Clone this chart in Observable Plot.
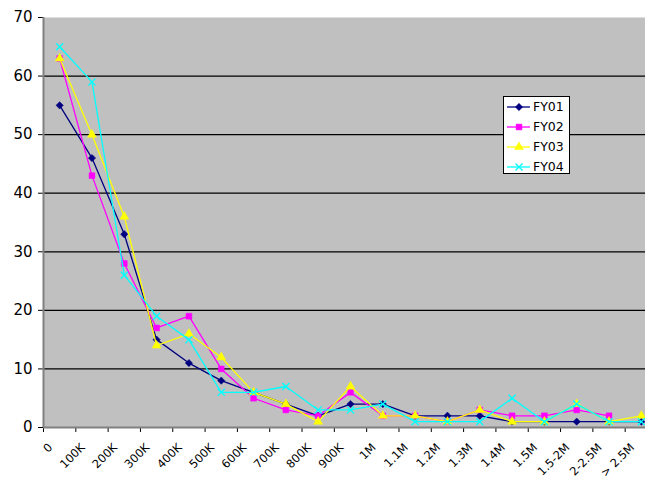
<!DOCTYPE html>
<html><head><meta charset="utf-8">
<script src="https://cdn.jsdelivr.net/npm/d3@7"></script>
<script src="https://cdn.jsdelivr.net/npm/@observablehq/plot@0.6"></script>
<style>
html,body{margin:0;padding:0;background:#fff;}
#wrap{position:relative;width:645px;height:483px;overflow:hidden;}
#legend{position:absolute;left:503px;top:96px;}
</style></head><body><div id="wrap"></div>
<script>
const categories = ["0","100K","200K","300K","400K","500K","600K","700K","800K","900K","1M","1.1M","1.2M","1.3M","1.4M","1.5M","1.5-2M","2-2.5M","> 2.5M"];
const fy01 = [55,46,33,15,11,8,6,4,2,4,4,2,2,2,1,1,1,1,1];
const fy02 = [63,43,28,17,19,10,5,3,2,6,2,2,1,3,2,2,3,2,null];
const fy03 = [63,50,36,14,16,12,6,4,1,7,2,2,1,3,1,1,4,1,2];
const fy04 = [65,59,26,19,15,6,6,7,3,3,4,1,1,1,5,1,4,1,1];
const seriesNames = ["FY01","FY02","FY03","FY04"];
const seriesColors = ["#000080","#FF00FF","#FFFF00","#00FFFF"];
const seriesSymbols = ["diamond2","square","triangle","times"];
const yTicks = [0,10,20,30,40,50,60,70];
const gridTicks = [10,20,30,40,50,60];

const seriesValues = [fy01, fy02, fy03, fy04];
const seriesRows = seriesValues.map((vals, s) =>
  vals.map((v, i) => ({series: seriesNames[s], pos: i + 0.5, value: v})).filter(d => d.value != null));

const seriesMarks = seriesRows.flatMap((rows, s) => {
  const filled = seriesSymbols[s] !== "times";
  return [
    Plot.line(rows, {x: "pos", y: "value", stroke: seriesColors[s], strokeWidth: 1.3}),
    Plot.dot(rows, {x: "pos", y: "value", symbol: () => seriesSymbols[s], r: 3.3,
      fill: filled ? seriesColors[s] : "none", stroke: seriesColors[s], strokeWidth: filled ? 0.5 : 1.3})
  ];
});

const chart = Plot.plot({
  width: 660, height: 483,
  marginLeft: 43, marginRight: 3, marginTop: 17, marginBottom: 56,
  style: {maxWidth: "none", background: "transparent", fontFamily: "'DejaVu Sans', Verdana, sans-serif", color: "#000"},
  x: {type: "linear", domain: [0, categories.length]},
  y: {domain: [0, 70]},
  symbol: {type: "identity"},
  marks: [
    Plot.frame({fill: "#C0C0C0", stroke: null}),
    Plot.gridY(gridTicks, {stroke: "#000", strokeOpacity: 1, strokeWidth: 1.2}),
    Plot.axisY(yTicks, {tickSize: 5, tickPadding: 6, fontSize: 15, stroke: "#000", label: null}),
    Plot.axisX(d3.range(categories.length + 1), {tickSize: 5, tickFormat: () => "", stroke: "#000", label: null}),
    Plot.axisX(categories.map((c, i) => i + 0.5), {tickSize: 0, tickRotate: -45, tickPadding: 8,
      dx: -9, dy: 10, tickFormat: d => categories[Math.floor(d)], fontSize: 11.5, label: null}),
    Plot.ruleX([0], {stroke: "#808080", strokeWidth: 2}),
    Plot.ruleY([0], {stroke: "#808080", strokeWidth: 2}),
    ...seriesMarks
  ]
});
document.getElementById("wrap").appendChild(chart);

// legend overlay
const leg = d3.create("svg").attr("id", "legend").attr("width", 68).attr("height", 79);
leg.append("rect").attr("x", 0.5).attr("y", 0.5).attr("width", 66).attr("height", 77)
  .attr("fill", "#fff").attr("stroke", "#000");
seriesNames.forEach((name, s) => {
  const g = leg.append("g").attr("transform", `translate(0,${11 + s * 20})`);
  g.append("line").attr("x1", 4).attr("x2", 27).attr("stroke", seriesColors[s]).attr("stroke-width", 1.3);
  const sym = {diamond2: d3.symbolDiamond2, square: d3.symbolSquare, triangle: d3.symbolTriangle, times: d3.symbolTimes}[seriesSymbols[s]];
  const filled = seriesSymbols[s] !== "times";
  g.append("path").attr("transform", "translate(16,0)").attr("d", d3.symbol(sym, 34)())
    .attr("fill", filled ? seriesColors[s] : "none").attr("stroke", seriesColors[s]).attr("stroke-width", filled ? 0.5 : 1.3);
  g.append("text").attr("x", 30).attr("y", 0).attr("dy", "0.35em").attr("font-size", 12.5)
    .attr("font-family", "'DejaVu Sans', Verdana, sans-serif").text(name);
});
document.getElementById("wrap").appendChild(leg.node());
</script></body></html>
